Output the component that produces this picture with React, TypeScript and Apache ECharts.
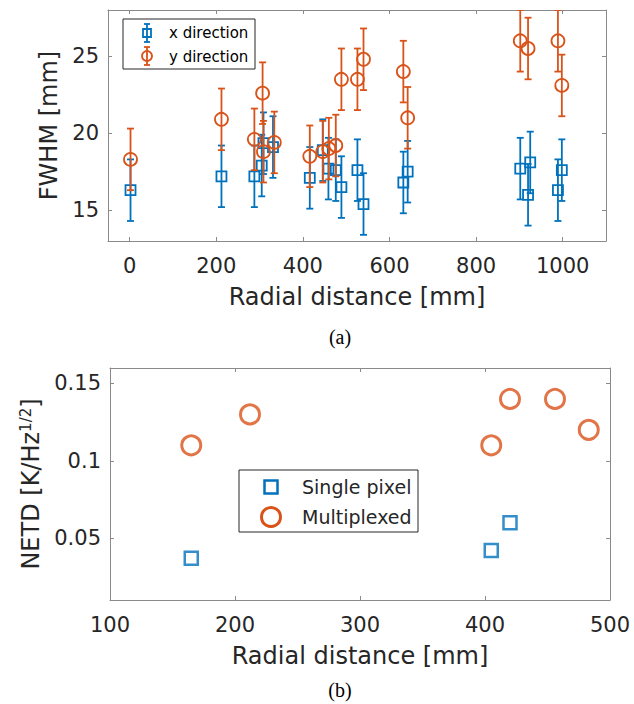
import React, { useEffect, useRef } from "react";
import * as echarts from "echarts";

// ---- Panel (a): FWHM vs radial distance ----
const xDirX = [2, 212, 288, 305, 309, 331, 416, 446, 459, 476, 489, 526, 540, 632, 642, 902, 920, 925, 989, 998];
const xDirY = [16.3, 17.2, 17.2, 17.9, 19.35, 19.1, 17.1, 18.9, 17.7, 17.6, 16.5, 17.6, 15.4, 16.8, 17.5, 17.7, 16.0, 18.1, 16.3, 17.6];
const xDirErr = [2.0, 2.0, 2.0, 2.0, 2.0, 2.0, 2.0, 2.0, 2.0, 2.0, 2.0, 2.0, 2.0, 2.0, 2.0, 2.0, 2.0, 2.0, 2.0, 2.0];

const yDirX = [2, 212, 288, 307, 309, 334, 416, 446, 460, 476, 489, 526, 540, 632, 642, 902, 920, 989, 998];
const yDirY = [18.3, 20.9, 19.6, 22.6, 18.8, 19.4, 18.5, 18.8, 19.0, 19.2, 23.5, 23.5, 24.8, 24.0, 21.0, 26.0, 25.5, 26.0, 23.1];
const yDirErr = [2.0, 2.0, 2.0, 2.0, 2.0, 2.0, 2.0, 2.0, 2.0, 2.0, 2.0, 2.0, 2.0, 2.0, 2.0, 2.0, 2.0, 2.0, 2.0];

const xTicksA = [0, 200, 400, 600, 800, 1000];
const yTicksA = [15, 20, 25];

// ---- Panel (b): NETD vs radial distance ----
const singleX = [165, 405, 420];
const singleY = [0.037, 0.042, 0.06];
const multiX = [165, 212, 405, 420, 456, 483];
const multiY = [0.11, 0.13, 0.11, 0.14, 0.14, 0.12];

const xTicksB = [100, 200, 300, 400, 500];
const yTicksB = [0.05, 0.1, 0.15];

const BLUE = "#0072BD";
const ORANGE = "#D95319";
const FRAME = "#8a8a8a";
const TEXT = "#262626";
const FONT = "DejaVu Sans";

function errRender(kind: string, color: string, size: number, lw: number, capW: number) {
  return (params: any, api: any) => {
    const x = api.value(0), y = api.value(1), e = api.value(2);
    const c = api.coord([x, y]);
    const t = api.coord([x, y + e]);
    const b = api.coord([x, y - e]);
    const style = { stroke: color, lineWidth: lw, fill: "none" };
    const marker =
      kind === "rect"
        ? { type: "rect", shape: { x: c[0] - size / 2, y: c[1] - size / 2, width: size, height: size }, style }
        : { type: "circle", shape: { cx: c[0], cy: c[1], r: size / 2 }, style };
    return {
      type: "group",
      children: [
        { type: "line", shape: { x1: c[0], y1: t[1], x2: c[0], y2: b[1] }, style },
        { type: "line", shape: { x1: c[0] - capW, y1: t[1], x2: c[0] + capW, y2: t[1] }, style },
        { type: "line", shape: { x1: c[0] - capW, y1: b[1], x2: c[0] + capW, y2: b[1] }, style },
        marker,
      ],
    };
  };
}

function frameAxis(gridIndex: number, position: string, min: number, max: number, ticks: number[], extra: any = {}) {
  const isMain = position === "bottom" || position === "left";
  return {
    type: "value",
    gridIndex,
    position,
    min,
    max,
    axisLine: { show: true, onZero: false, lineStyle: { color: FRAME, width: 1 } },
    axisTick: { show: true, inside: true, length: 4, customValues: ticks, lineStyle: { color: FRAME, width: 1 } },
    axisLabel: {
      show: isMain,
      customValues: ticks,
      formatter: (v: number) => String(v),
      color: TEXT,
      fontFamily: FONT,
      fontSize: 21,
      margin: position === "left" ? 9 : 14,
    },
    splitLine: { show: false },
    ...extra,
  };
}

export default function App() {
  const ref = useRef<HTMLDivElement>(null);
  useEffect(() => {
    if (!ref.current) return;
    const chart = echarts.init(ref.current, null, { renderer: "svg" });
    const nameStyle = { color: TEXT, fontFamily: FONT, fontSize: 24 };
    const option: any = {
      animation: false,
      backgroundColor: "#ffffff",
      grid: [
        { left: 108, top: 10, width: 498, height: 231, containLabel: false, outerBoundsMode: "none" },
        { left: 110, top: 368, width: 500, height: 232, containLabel: false, outerBoundsMode: "none" },
      ],
      xAxis: [
        frameAxis(0, "bottom", -50, 1100, xTicksA, {
          name: "Radial distance [mm]",
          nameLocation: "middle",
          nameGap: 44,
          nameTextStyle: nameStyle,
        }),
        frameAxis(0, "top", -50, 1100, xTicksA),
        frameAxis(1, "bottom", 100, 500, xTicksB, {
          name: "Radial distance [mm]",
          nameLocation: "middle",
          nameGap: 44,
          nameTextStyle: nameStyle,
        }),
        frameAxis(1, "top", 100, 500, xTicksB),
      ],
      yAxis: [
        frameAxis(0, "left", 13, 28, yTicksA, {
          name: "FWHM [mm]",
          nameLocation: "middle",
          nameGap: 44,
          nameTextStyle: nameStyle,
        }),
        frameAxis(0, "right", 13, 28, yTicksA),
        frameAxis(1, "left", 0.01, 0.16, yTicksB, {
          name: "NETD [K/Hz{sup|1/2}]",
          nameLocation: "middle",
          nameGap: 64,
          nameTextStyle: {
            ...nameStyle,
            rich: {
              sup: { fontSize: 15, fontFamily: FONT, color: TEXT, verticalAlign: "top", padding: [0, 0, 10, 0] },
            },
          },
        }),
        frameAxis(1, "right", 0.01, 0.16, yTicksB),
      ],
      series: [
        {
          name: "x direction",
          type: "custom",
          xAxisIndex: 0,
          yAxisIndex: 0,
          clip: true,
          renderItem: errRender("rect", BLUE, 10, 1.8, 3.5),
          encode: { x: 0, y: 1 },
          data: xDirX.map((x, i) => [x, xDirY[i], xDirErr[i]]),
        },
        {
          name: "y direction",
          type: "custom",
          xAxisIndex: 0,
          yAxisIndex: 0,
          clip: true,
          renderItem: errRender("circle", ORANGE, 13, 1.8, 3.5),
          encode: { x: 0, y: 1 },
          data: yDirX.map((x, i) => [x, yDirY[i], yDirErr[i]]),
        },
        {
          name: "Single pixel",
          type: "scatter",
          xAxisIndex: 2,
          yAxisIndex: 2,
          symbol: "rect",
          symbolSize: 13,
          itemStyle: { color: "rgba(0,0,0,0)", borderColor: BLUE, borderWidth: 2.5 },
          data: singleX.map((x, i) => [x, singleY[i]]),
        },
        {
          name: "Multiplexed",
          type: "scatter",
          xAxisIndex: 2,
          yAxisIndex: 2,
          symbol: "circle",
          symbolSize: 19,
          itemStyle: { color: "rgba(0,0,0,0)", borderColor: ORANGE, borderWidth: 3 },
          data: multiX.map((x, i) => [x, multiY[i]]),
        },
      ],
      graphic: [
        // legend (a)
        { type: "rect", z: 100, shape: { x: 123, y: 19, width: 132, height: 50 }, style: { fill: "#fff", stroke: TEXT, lineWidth: 1 } },
        { type: "line", z: 101, shape: { x1: 147, y1: 24, x2: 147, y2: 42 }, style: { stroke: BLUE, lineWidth: 1.8 } },
        { type: "line", z: 101, shape: { x1: 144, y1: 24, x2: 150, y2: 24 }, style: { stroke: BLUE, lineWidth: 1.8 } },
        { type: "line", z: 101, shape: { x1: 144, y1: 42, x2: 150, y2: 42 }, style: { stroke: BLUE, lineWidth: 1.8 } },
        { type: "rect", z: 101, shape: { x: 143, y: 29, width: 8, height: 8 }, style: { fill: "none", stroke: BLUE, lineWidth: 1.8 } },
        { type: "text", z: 101, x: 169, y: 33, style: { text: "x direction", fill: "#000", font: `15px "${FONT}"`, verticalAlign: "middle" } },
        { type: "line", z: 101, shape: { x1: 147, y1: 47, x2: 147, y2: 65 }, style: { stroke: ORANGE, lineWidth: 1.8 } },
        { type: "line", z: 101, shape: { x1: 144, y1: 47, x2: 150, y2: 47 }, style: { stroke: ORANGE, lineWidth: 1.8 } },
        { type: "line", z: 101, shape: { x1: 144, y1: 65, x2: 150, y2: 65 }, style: { stroke: ORANGE, lineWidth: 1.8 } },
        { type: "circle", z: 101, shape: { cx: 147, cy: 56, r: 5 }, style: { fill: "none", stroke: ORANGE, lineWidth: 1.8 } },
        { type: "text", z: 101, x: 169, y: 56.5, style: { text: "y direction", fill: "#000", font: `15px "${FONT}"`, verticalAlign: "middle" } },
        // legend (b)
        { type: "rect", z: 100, shape: { x: 239, y: 470, width: 179, height: 62 }, style: { fill: "#fff", stroke: TEXT, lineWidth: 1 } },
        { type: "rect", z: 101, shape: { x: 264.5, y: 480.5, width: 13, height: 13 }, style: { fill: "none", stroke: BLUE, lineWidth: 2.5 } },
        { type: "text", z: 101, x: 302, y: 487, style: { text: "Single pixel", fill: TEXT, font: `19px "${FONT}"`, verticalAlign: "middle" } },
        { type: "circle", z: 101, shape: { cx: 271, cy: 517, r: 9.5 }, style: { fill: "none", stroke: ORANGE, lineWidth: 3 } },
        { type: "text", z: 101, x: 302, y: 517, style: { text: "Multiplexed", fill: TEXT, font: `19px "${FONT}"`, verticalAlign: "middle" } },
        // panel captions
        { type: "text", x: 340, y: 337, style: { text: "(a)", fill: "#000", font: '20px "Liberation Serif"', align: "center", verticalAlign: "middle" } },
        { type: "text", x: 340, y: 690, style: { text: "(b)", fill: "#000", font: '20px "Liberation Serif"', align: "center", verticalAlign: "middle" } },
      ],
    };
    chart.setOption(option);
    return () => chart.dispose();
  }, []);
  return <div ref={ref} style={{ position: "absolute", left: 0, top: 0, width: 634, height: 704 }} />;
}
